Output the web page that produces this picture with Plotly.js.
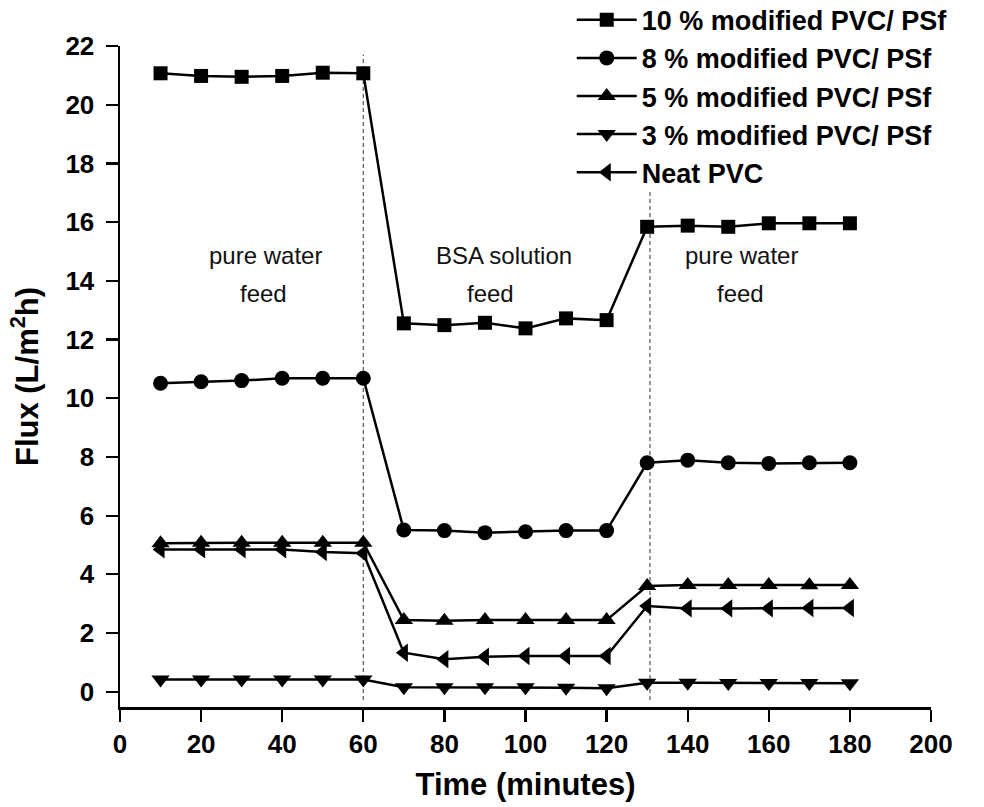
<!DOCTYPE html>
<html>
<head>
<meta charset="utf-8">
<script src="https://cdn.plot.ly/plotly-3.0.1.min.js"></script>
<style>
  html, body { margin: 0; padding: 0; background: #ffffff; }
  #chart { width: 984px; height: 807px; }
</style>
</head>
<body>
<div id="chart"></div>
<script>
// ---- data ----
const timeMin = [10, 20, 30, 40, 50, 60, 70, 80, 90, 100, 110, 120, 130, 140, 150, 160, 170, 180];
const flux10 = [21.07, 20.98, 20.95, 20.98, 21.09, 21.07, 12.55, 12.49, 12.57, 12.38, 12.72, 12.66, 15.84, 15.88, 15.84, 15.96, 15.96, 15.96];
const flux8  = [10.51, 10.56, 10.60, 10.68, 10.68, 10.68, 5.51, 5.49, 5.42, 5.45, 5.49, 5.49, 7.80, 7.89, 7.80, 7.78, 7.80, 7.80];
const flux5  = [5.06, 5.08, 5.08, 5.08, 5.08, 5.08, 2.44, 2.42, 2.44, 2.44, 2.44, 2.44, 3.60, 3.64, 3.64, 3.64, 3.63, 3.64];
const flux3  = [0.42, 0.42, 0.42, 0.42, 0.42, 0.42, 0.15, 0.15, 0.15, 0.15, 0.14, 0.12, 0.31, 0.31, 0.30, 0.30, 0.30, 0.29];
const fluxNeat = [4.85, 4.85, 4.85, 4.85, 4.76, 4.72, 1.33, 1.11, 1.19, 1.22, 1.22, 1.22, 2.92, 2.84, 2.84, 2.84, 2.85, 2.85];

const seriesNames = ['10 % modified PVC/ PSf', '8 % modified PVC/ PSf', '5 % modified PVC/ PSf', '3 % modified PVC/ PSf', 'Neat PVC'];
const seriesSymbols = ['square', 'circle', 'triangle-up', 'triangle-down', 'triangle-left'];
const seriesSizes = [14, 15, 16, 16, 16];
const seriesValues = [flux10, flux8, flux5, flux3, fluxNeat];

// phase boundaries (minutes) and their vertical extent (flux units)
const phaseBoundaries = [60, 130.7];
const boundaryTops = [21.7, 17.1];
const boundaryBottom = -0.28;

// phase labels
const phaseLabelLine1 = ['pure water', 'BSA solution', 'pure water'];
const phaseLabelLine2 = ['feed', 'feed', 'feed'];
const phaseLabelX1 = [35.8, 94.6, 153.2];
const phaseLabelX2 = [35.3, 91.3, 152.9];
const phaseLabelY1 = 14.85;
const phaseLabelY2 = 13.58;

const xTicks = [0, 20, 40, 60, 80, 100, 120, 140, 160, 180, 200];
const yTicks = [0, 2, 4, 6, 8, 10, 12, 14, 16, 18, 20, 22];

// ---- traces ----
const FONT = '"Liberation Sans", Arial, Helvetica, sans-serif';
const traces = seriesNames.map((name, i) => ({
  x: timeMin,
  y: seriesValues[i],
  name: name,
  type: 'scatter',
  mode: 'lines+markers',
  line: { color: '#000000', width: 2.5 },
  marker: { symbol: seriesSymbols[i], size: seriesSizes[i], color: '#000000', line: { width: 0 } }
}));

const shapes = phaseBoundaries.map((b, i) => ({
  type: 'line', xref: 'x', yref: 'y',
  x0: b, x1: b, y0: boundaryBottom, y1: boundaryTops[i],
  line: { color: '#555555', width: 1.2, dash: '4px,3px' },
  layer: 'below'
}));

const annotations = [];
phaseLabelLine1.forEach((t, i) => {
  annotations.push({ text: t, x: phaseLabelX1[i], y: phaseLabelY1, xref: 'x', yref: 'y',
    showarrow: false, xanchor: 'center', yanchor: 'middle',
    font: { family: FONT, size: 24, color: '#111111' } });
  annotations.push({ text: phaseLabelLine2[i], x: phaseLabelX2[i], y: phaseLabelY2, xref: 'x', yref: 'y',
    showarrow: false, xanchor: 'center', yanchor: 'middle',
    font: { family: FONT, size: 24, color: '#111111' } });
});

const layout = {
  width: 984,
  height: 807,
  paper_bgcolor: '#ffffff',
  plot_bgcolor: '#ffffff',
  margin: { l: 120, r: 53, t: 46, b: 100, pad: 0, autoexpand: false },
  font: { family: FONT, color: '#000000' },
  showlegend: true,
  legend: {
    x: 0.557, y: 1.076, xanchor: 'left', yanchor: 'top',
    bgcolor: 'rgba(0,0,0,0)', borderwidth: 0,
    itemwidth: 60,
    font: { family: FONT, size: 27, color: '#000000', weight: 'bold' },
    tracegroupgap: 0
  },
  xaxis: {
    range: [0, 200],
    tickvals: xTicks,
    ticktext: xTicks.map(String),
    showgrid: false, zeroline: false,
    showline: true, linecolor: '#000000', linewidth: 2.5,
    ticks: 'outside', ticklen: 12, tickwidth: 2.2, tickcolor: '#000000',
    tickfont: { family: FONT, size: 26, color: '#000000', weight: 'bold' },
    title: { text: 'Time (minutes)', font: { family: FONT, size: 31, color: '#000000', weight: 'bold' }, standoff: 16 },
    mirror: false
  },
  yaxis: {
    range: [-0.52, 22],
    tickvals: yTicks,
    ticktext: yTicks.map(String),
    showgrid: false, zeroline: false,
    showline: true, linecolor: '#000000', linewidth: 2.5,
    ticks: 'outside', ticklen: 12, tickwidth: 2.2, tickcolor: '#000000',
    ticklabelstandoff: 6,
    tickfont: { family: FONT, size: 26, color: '#000000', weight: 'bold' },
    title: { text: 'Flux (L/m<sup>2</sup>h)', font: { family: FONT, size: 31, color: '#000000', weight: 'bold' }, standoff: 18 },
    mirror: false
  },
  shapes: shapes,
  annotations: annotations
};

Plotly.newPlot('chart', traces, layout, { displayModeBar: false, staticPlot: true });
</script>
</body>
</html>
